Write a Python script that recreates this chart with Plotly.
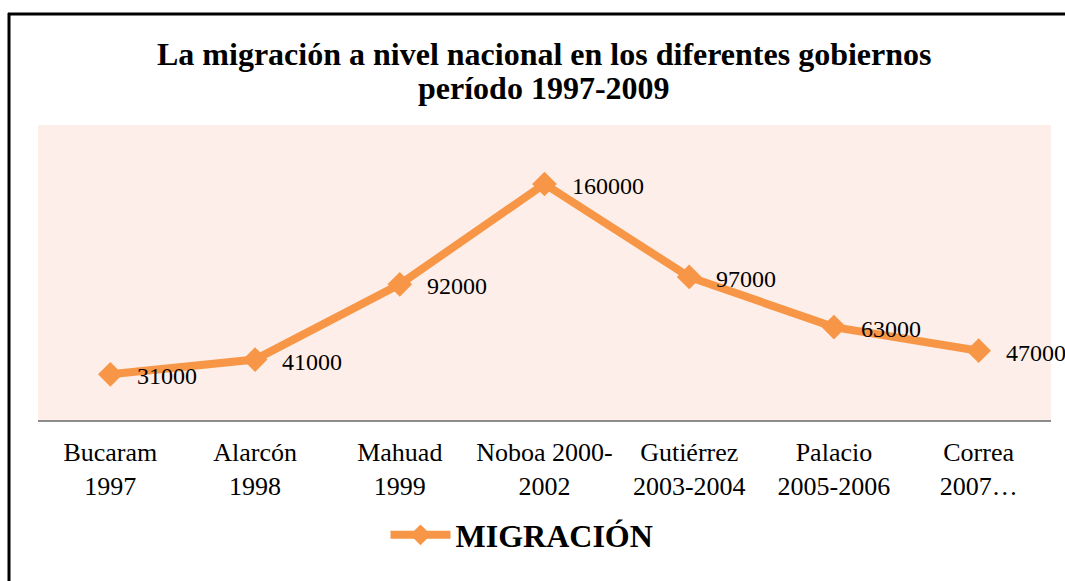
import plotly.graph_objects as go

categories = ["Bucaram<br>1997", "Alarcón<br>1998", "Mahuad<br>1999", "Noboa 2000-<br>2002",
              "Gutiérrez<br>2003-2004", "Palacio<br>2005-2006", "Correa<br>2007…"]
values = [31000, 41000, 92000, 160000, 97000, 63000, 47000]
series_name = "MIGRACIÓN"
title_lines = ["La migración a nivel nacional en los diferentes gobiernos", "período 1997-2009"]

ORANGE = "#F79646"
FONT = "Liberation Serif, Times New Roman, serif"

W, H = 1065, 581
L, R, T, B = 38, 14, 125, 161
pw, ph = W - L - R, H - T - B

def px_to_paper_x(px):
    return (px - L) / pw

def px_to_paper_y(py):
    return (H - B - py) / ph

fig = go.Figure()
fig.add_trace(go.Scatter(
    x=list(range(len(categories))), y=values, mode="lines+markers",
    name=series_name,
    line=dict(color=ORANGE, width=8),
    marker=dict(symbol="diamond", size=19, color=ORANGE, line=dict(width=0)),
    hoverinfo="skip",
))

annotations = []
for i, v in enumerate(values):
    annotations.append(dict(
        x=i, y=v, xref="x", yref="y", text=str(v), showarrow=False,
        xanchor="left", yanchor="middle", xshift=25, yshift=-2,
        font=dict(family=FONT, size=24, color="black"),
    ))

title_centers = [54, 88]
for line, cy in zip(title_lines, title_centers):
    annotations.append(dict(
        x=px_to_paper_x(544), y=px_to_paper_y(cy), xref="paper", yref="paper",
        text="<b>" + line + "</b>", showarrow=False, xanchor="center", yanchor="middle",
        font=dict(family=FONT, size=32, color="black"),
    ))

shapes = [
    dict(type="line", xref="paper", yref="paper",
         x0=px_to_paper_x(8), x1=px_to_paper_x(1070),
         y0=px_to_paper_y(14), y1=px_to_paper_y(14),
         line=dict(color="black", width=3)),
    dict(type="line", xref="paper", yref="paper",
         x0=px_to_paper_x(9), x1=px_to_paper_x(9),
         y0=px_to_paper_y(13), y1=px_to_paper_y(590),
         line=dict(color="black", width=3)),
]

fig.update_layout(
    width=W, height=H,
    margin=dict(l=L, r=R, t=T, b=B, autoexpand=False),
    paper_bgcolor="white",
    plot_bgcolor="#FDEEE9",
    xaxis=dict(range=[-0.5, len(categories) - 0.5],
               tickmode="array", tickvals=list(range(len(categories))), ticktext=categories,
               showgrid=False, zeroline=False, showline=True, linecolor="#8C8C8C", linewidth=2,
               ticks="", ticklabelstandoff=8,
               tickfont=dict(family=FONT, size=26, color="black"), fixedrange=True),
    yaxis=dict(range=[0, 200000], visible=False, showgrid=False, zeroline=False, fixedrange=True),
    showlegend=True,
    legend=dict(orientation="h", x=px_to_paper_x(522), xanchor="center",
                y=px_to_paper_y(535), yanchor="middle", itemwidth=60,
                font=dict(family=FONT, size=32, color="black", weight="bold"),
                bgcolor="rgba(0,0,0,0)"),
    annotations=annotations,
    shapes=shapes,
)

fig.write_html("out.html", config={"displayModeBar": False},
               post_script="document.body.style.margin='0';document.body.style.overflow='hidden';")
